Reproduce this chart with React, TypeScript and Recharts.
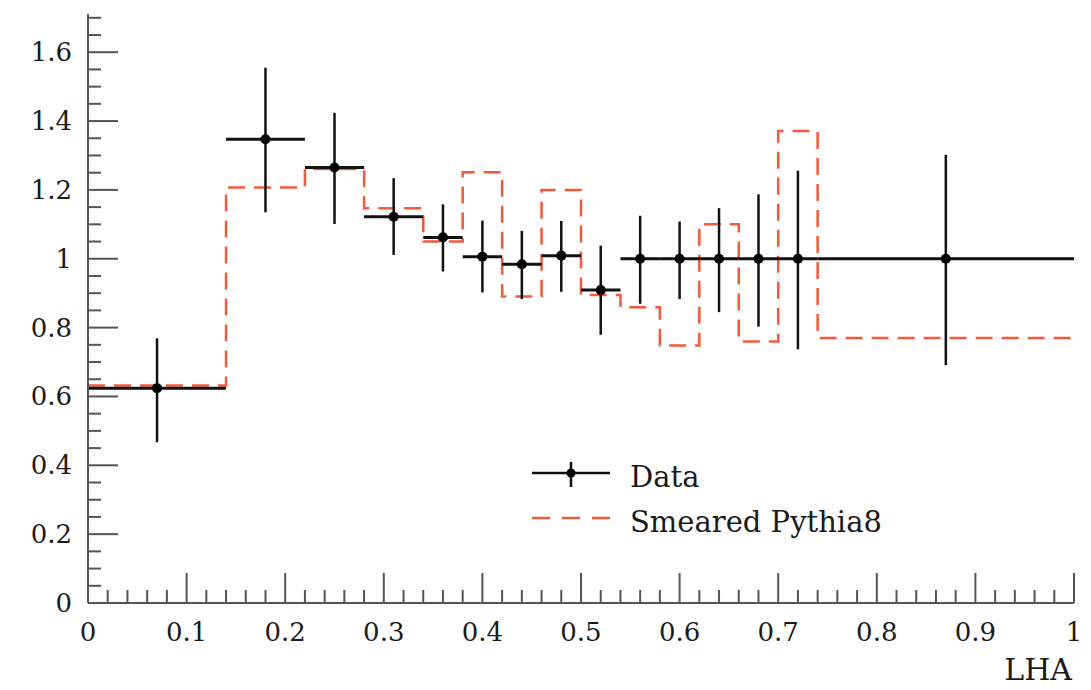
import React from 'react';
import { ComposedChart, Line, Scatter, ErrorBar, XAxis, YAxis, ZAxis, Legend, Label } from 'recharts';

// bin edges shared by data and MC
const binEdges = [0, 0.14, 0.22, 0.28, 0.34, 0.38, 0.42, 0.46, 0.5, 0.54, 0.58, 0.62, 0.66, 0.7, 0.74, 1.0];

// measured points
const dataX = [0.07, 0.18, 0.25, 0.31, 0.36, 0.4, 0.44, 0.48, 0.52, 0.56, 0.6, 0.64, 0.68, 0.72, 0.87];
const dataY = [0.624, 1.347, 1.265, 1.122, 1.062, 1.006, 0.984, 1.009, 0.909, 1.0, 1.0, 1.0, 1.0, 1.0, 1.0];
const dataYHigh = [0.769, 1.555, 1.424, 1.234, 1.158, 1.111, 1.081, 1.11, 1.038, 1.125, 1.108, 1.147, 1.187, 1.256, 1.302];
const dataYLow = [0.467, 1.135, 1.101, 1.011, 0.963, 0.902, 0.883, 0.904, 0.779, 0.869, 0.883, 0.845, 0.803, 0.737, 0.691];

// smeared pythia8 histogram, one value per bin
const mcValues = [0.632, 1.207, 1.261, 1.147, 1.05, 1.251, 0.89, 1.2, 0.895, 0.859, 0.748, 1.1, 0.76, 1.371, 0.77];

const xMajorTicks = [0, 0.1, 0.2, 0.3, 0.4, 0.5, 0.6, 0.7, 0.8, 0.9, 1];
const yMajorTicks = [0, 0.2, 0.4, 0.6, 0.8, 1, 1.2, 1.4, 1.6];
const xTicks = Array.from({ length: 51 }, (_, i) => i * 0.02);
const yTicks = Array.from({ length: 35 }, (_, i) => i * 0.05);

const dataName = 'Data';
const mcName = 'Smeared Pythia8';
const xTitle = 'LHA';

const pointData = dataX.map((x, i) => ({
  x,
  y: dataY[i],
  ex: [x - binEdges[i], binEdges[i + 1] - x],
  ey: [dataY[i] - dataYLow[i], dataYHigh[i] - dataY[i]],
}));

const mcData = binEdges.map((x, i) => ({ x, mc: mcValues[Math.min(i, mcValues.length - 1)] }));

const FONT = '"DejaVu Serif", serif';
const AXIS = '#555';
const TXT = '#1a1a1a';
const RED = '#f4593a';

const isMajor = (v: number, list: number[]) => list.some((m) => Math.abs(m - v) < 1e-6);
const fmt = (v: number) => String(Number(v.toFixed(1)));

const FrameTick = (props: any) => {
  const { x, y, payload, side } = props;
  const v = payload.value;
  const major = isMajor(v, side === 'bottom' || side === 'top' ? xMajorTicks : yMajorTicks);
  const len = major ? 30 : 13;
  let line;
  if (side === 'bottom') line = <line x1={x} y1={y} x2={x} y2={y - len} stroke={AXIS} strokeWidth={2} />;
  else if (side === 'top') line = <line x1={x} y1={y} x2={x} y2={y + len} stroke={AXIS} strokeWidth={2} />;
  else if (side === 'left') line = <line x1={x} y1={y} x2={x + len} y2={y} stroke={AXIS} strokeWidth={2} />;
  else line = <line x1={x} y1={y} x2={x - len} y2={y} stroke={AXIS} strokeWidth={2} />;
  let label = null;
  if (major && side === 'bottom') {
    label = (
      <text x={x} y={y + 38} textAnchor="middle" fontSize={26} fontFamily={FONT} fill={TXT}>
        {fmt(v)}
      </text>
    );
  }
  if (major && side === 'left') {
    label = (
      <text x={x - 16} y={y + 9} textAnchor="end" fontSize={26} fontFamily={FONT} fill={TXT}>
        {fmt(v)}
      </text>
    );
  }
  return (
    <g>
      {line}
      {label}
    </g>
  );
};

// axis title sits under the right end of the x axis
const AxisTitle = (props: any) => {
  const vb = props.viewBox || {};
  return (
    <text x={vb.x + vb.width - 2} y={672} textAnchor="end" fontSize={30} fontFamily={FONT} fill={TXT}>
      {xTitle}
    </text>
  );
};

const renderLegend = (props: any) => {
  const payload = props.payload || [];
  const names = [dataName, mcName].filter((n) => payload.some((p: any) => p.value === n));
  return (
    <svg width={400} height={100}>
      {names.map((n, i) => {
        const cy = i === 0 ? 20 : 65;
        return (
          <g key={n}>
            {n === dataName ? (
              <g>
                <line x1={9} y1={cy} x2={87} y2={cy} stroke="#111" strokeWidth={2.5} />
                <line x1={48} y1={cy - 11} x2={48} y2={cy + 14} stroke="#111" strokeWidth={2.5} />
                <circle cx={48} cy={cy} r={4.5} fill="#000" />
              </g>
            ) : (
              <line x1={9} y1={cy} x2={87} y2={cy} stroke={RED} strokeWidth={2.5} strokeDasharray="18 12" />
            )}
            <text x={107} y={cy + 14} fontSize={29} fontFamily={FONT} fill={TXT}>
              {n}
            </text>
          </g>
        );
      })}
    </svg>
  );
};

export default function App() {
  return (
    <div style={{ height: 674 }}>
      <ComposedChart width={1075} height={682} margin={{ top: 6, right: 9, left: 0, bottom: 0 }}>
        <XAxis
          dataKey="x"
          type="number"
          domain={[0, 1]}
          allowDataOverflow
          ticks={xTicks}
          interval={0}
          height={87}
          tickSize={0}
          tickMargin={0}
          tickLine={false}
          axisLine={{ stroke: AXIS, strokeWidth: 2 }}
          tick={(p: any) => <FrameTick {...p} side="bottom" />}
        >
          <Label content={AxisTitle} />
        </XAxis>
        <XAxis
          xAxisId="top"
          orientation="top"
          dataKey="x"
          type="number"
          domain={[0, 1]}
          allowDataOverflow
          ticks={xTicks}
          interval={0}
          height={0}
          tickSize={0}
          tickMargin={0}
          tickLine={false}
          axisLine={{ stroke: AXIS, strokeWidth: 2 }}
          tick={(p: any) => <FrameTick {...p} side="top" />}
        />
        <YAxis
          type="number"
          domain={[0, 1.711]}
          allowDataOverflow
          ticks={yTicks}
          interval={0}
          width={80}
          tickSize={0}
          tickMargin={0}
          tickLine={false}
          axisLine={{ stroke: AXIS, strokeWidth: 2 }}
          tick={(p: any) => <FrameTick {...p} side="left" />}
        />
        <YAxis
          yAxisId="right"
          orientation="right"
          type="number"
          domain={[0, 1.711]}
          allowDataOverflow
          ticks={yTicks}
          interval={0}
          width={0}
          tickSize={0}
          tickMargin={0}
          tickLine={false}
          axisLine={{ stroke: AXIS, strokeWidth: 2 }}
          tick={(p: any) => <FrameTick {...p} side="right" />}
        />
        <ZAxis range={[80, 80]} />
        <Line
          data={mcData}
          dataKey="mc"
          name={mcName}
          type="stepAfter"
          stroke={RED}
          strokeWidth={2.5}
          strokeDasharray="17 9"
          dot={false}
          activeDot={false}
          isAnimationActive={false}
        />
        <Scatter data={pointData} dataKey="y" name={dataName} fill="#000" shape="circle" isAnimationActive={false}>
          <ErrorBar dataKey="ex" direction="x" width={0} stroke="#111" strokeWidth={3} isAnimationActive={false} />
          <ErrorBar dataKey="ey" direction="y" width={0} stroke="#111" strokeWidth={2.5} isAnimationActive={false} />
        </Scatter>
        <Legend
          layout="horizontal"
          verticalAlign="middle"
          align="center"
          content={renderLegend}
          wrapperStyle={{ position: 'absolute', left: 515, top: 445, width: 400, height: 100 }}
        />
      </ComposedChart>
    </div>
  );
}
